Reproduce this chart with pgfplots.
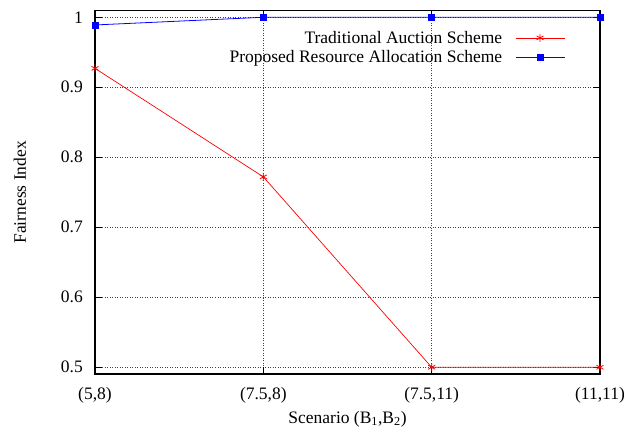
\documentclass[border=0pt]{standalone}
\usepackage{pgfplots}
\pgfplotsset{compat=1.18}
\usepackage{fontspec}
\setmainfont{Liberation Serif}
\newcommand{\fs}{\fontsize{17.5}{18}\selectfont}
\begin{document}
\begin{tikzpicture}
\begin{axis}[
  scale only axis,
  width=505pt, height=363.3pt,
  xmin=0, xmax=3, ymin=0.4904, ymax=1.0094,
  xtick={0,1,2,3},
  xticklabels={(5,8),(7.5,8),(7.5,11),(11,11)},
  ytick={0.5,0.6,0.7,0.8,0.9,1},
  yticklabels={0.5,0.6,0.7,0.8,0.9,1},
  tick align=inside,
  major tick length=7pt,
  tick style={black, line width=0.8pt},
  axis line style={black, line width=1.3pt},
  grid=major,
  major grid style={black!75, line width=0.7pt, dash pattern=on 1pt off 1.5pt},
  xticklabel style={font=\fs, inner sep=0pt, anchor=base, yshift=-26pt},
  yticklabel style={font=\fs, inner sep=0pt, anchor=east, xshift=-12pt},
  xlabel={Scenario (B\textsubscript{1},B\textsubscript{2})},
  ylabel={Fairness Index},
  every axis x label/.style={at={(axis description cs:0.5,-0.1239)}, anchor=center, font=\fs},
  every axis y label/.style={at={(axis description cs:-0.1485,0.5)}, anchor=center, rotate=90, font=\fs},
  legend plot pos=right,
  legend cell align=right,
  legend style={at={(axis description cs:0.9307,0.9440)}, anchor=north east,
    draw=none, fill=none, inner sep=0pt, outer sep=0pt, row sep=6pt, column sep=13pt,
    font=\fs, nodes={inner sep=0pt}},
  legend image code/.code={
    \draw[mark repeat=2,mark phase=2] plot coordinates {(0pt,0pt)(24.5pt,0pt)(49pt,0pt)};
  },
  clip=false,
]
\addplot[red, line width=0.7pt, mark=asterisk, mark size=4pt, mark options={line width=0.8pt}]
  coordinates {(0,0.927) (1,0.772) (2,0.5) (3,0.5)};
\addlegendentry{Traditional Auction Scheme}
\addplot[blue, line width=0.8pt, mark=square*, mark size=3pt]
  coordinates {(0,0.989) (1,1.0) (2,1.0) (3,1.0)};
\addlegendentry{Proposed Resource Allocation Scheme}
\end{axis}
\path[use as bounding box] (-95pt,-56pt) rectangle (532pt,374pt);
\end{tikzpicture}
\end{document}
